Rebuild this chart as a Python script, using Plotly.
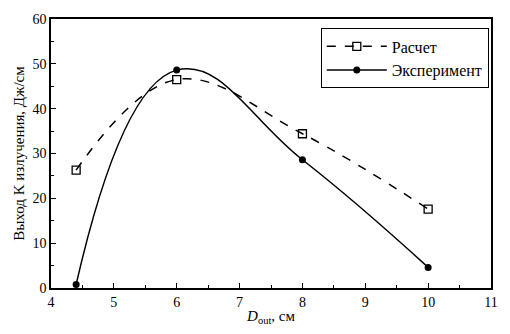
import plotly.graph_objects as go

x_calc = [4.4, 6, 8, 10]
y_calc = [26.3, 46.5, 34.4, 17.6]
x_exp = [4.4, 6, 8, 10]
y_exp = [0.8, 48.6, 28.6, 4.6]

x_ticks = [4, 5, 6, 7, 8, 9, 10, 11]
y_ticks = [0, 10, 20, 30, 40, 50, 60]

serif = "Liberation Serif, Times New Roman, serif"

fig = go.Figure()
fig.add_trace(go.Scatter(
    x=x_calc, y=y_calc, name="Расчет", mode="lines+markers",
    line=dict(color="black", width=1.5, dash="dash", shape="spline", smoothing=1.1),
    marker=dict(symbol="square-open", size=8, color="black", line=dict(width=1.3)),
))
fig.add_trace(go.Scatter(
    x=x_exp, y=y_exp, name="Эксперимент", mode="lines+markers",
    line=dict(color="black", width=1.5, shape="spline", smoothing=1.25),
    marker=dict(symbol="circle", size=7, color="black"),
))

axis_common = dict(
    showgrid=False, zeroline=False, showline=True, linecolor="black", linewidth=1.5,
    mirror=True, ticks="inside", ticklen=5, tickcolor="black", tickwidth=1,
    tickfont=dict(family=serif, size=14, color="black"),
)
fig.update_xaxes(
    range=[4, 11], tickvals=x_ticks,
    minor=dict(ticks="inside", ticklen=3, dtick=0.5, tickcolor="black"),
    title=dict(text="<i>D</i><sub>out</sub>, см", font=dict(family=serif, size=15, color="black"), standoff=2),
    **axis_common,
)
fig.update_yaxes(
    range=[0, 60], tickvals=y_ticks,
    minor=dict(ticks="inside", ticklen=3, dtick=5, tickcolor="black"),
    title=dict(text="Выход K излучения, Дж/см", font=dict(family=serif, size=15, color="black"), standoff=4),
    **axis_common,
)
fig.update_layout(
    width=510, height=334,
    margin=dict(l=51, r=13, t=13, b=43),
    plot_bgcolor="white", paper_bgcolor="white",
    legend=dict(
        x=0.995, y=0.965, xanchor="right", yanchor="top",
        bordercolor="black", borderwidth=1, bgcolor="white",
        font=dict(family=serif, size=16, color="black"),
        itemwidth=60, tracegroupgap=0,
    ),
)
fig.write_html("out.html")
